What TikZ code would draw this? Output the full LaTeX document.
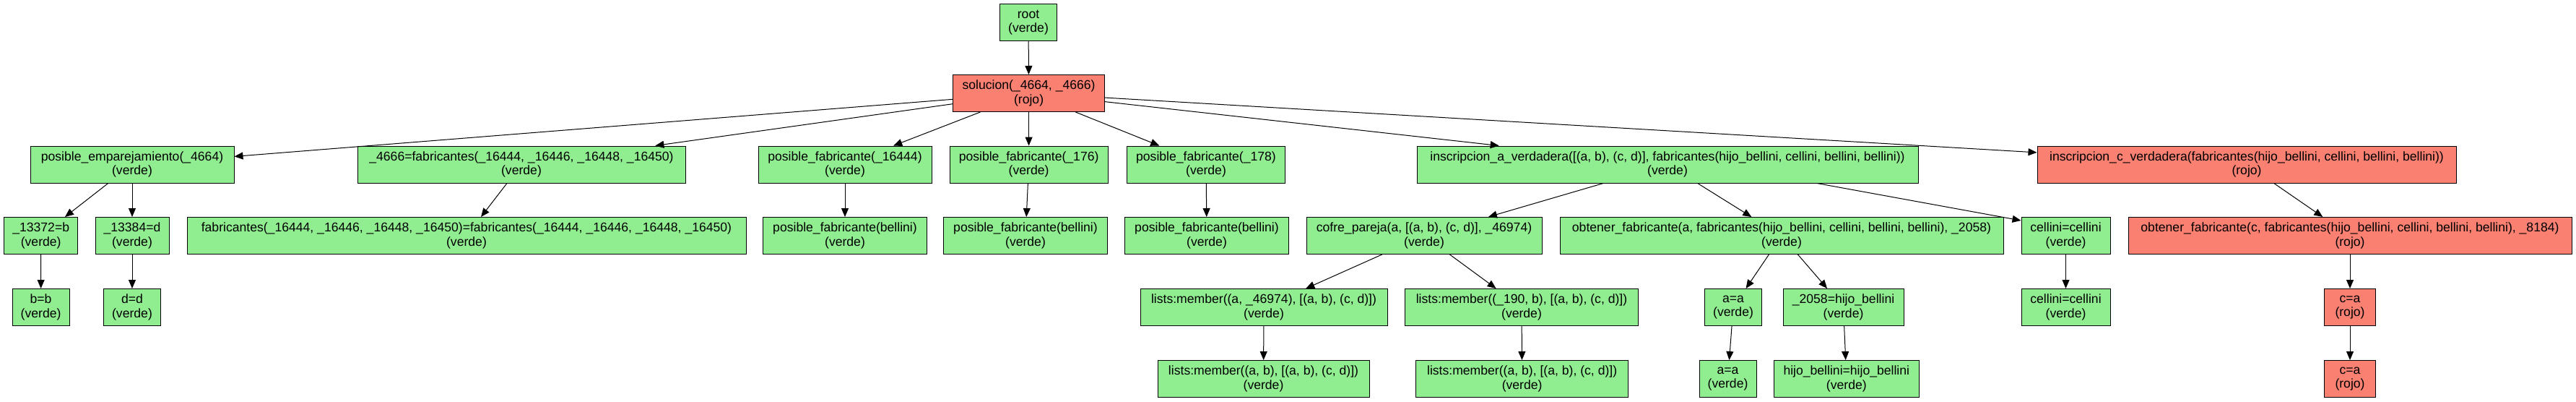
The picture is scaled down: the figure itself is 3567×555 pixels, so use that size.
\documentclass[tikz,border=0pt]{standalone}
\usepackage{fontspec}
\setmainfont{Liberation Sans}
\usetikzlibrary{arrows.meta}
\definecolor{lgreen}{HTML}{90EE90}
\definecolor{salmonc}{HTML}{FA8072}
\tikzset{
 nd/.style={draw=black, line width=1pt, minimum height=51pt, inner xsep=10pt, inner ysep=0pt, align=center, font=\fontsize{17.6}{19.5}\selectfont, text=black},
 gn/.style={nd, fill=lgreen},
 rn/.style={nd, fill=salmonc},
 ed/.style={line width=1pt, -{Triangle[length=12pt,width=10pt]}}
}
\begin{document}
\begin{tikzpicture}[x=1pt,y=-1pt]
\useasboundingbox (0,0) rectangle (3567,555);
% row 1-2
\node[gn, minimum width=79pt] (root) at (1424,31) {root\\(verde)};
\node[rn, minimum width=210pt] (sol) at (1424.6,129) {solucion(\_4664, \_4666)\\(rojo)};
% row 3
\node[gn, minimum width=282pt] (pemp) at (183,227.5) {posible\_emparejamiento(\_4664)\\(verde)};
\node[gn, minimum width=454pt] (f4666) at (722,227.5) {\_4666=fabricantes(\_16444, \_16446, \_16448, \_16450)\\(verde)};
\node[gn, minimum width=240pt] (pf1) at (1170,227.5) {posible\_fabricante(\_16444)\\(verde)};
\node[gn, minimum width=219pt] (pf2) at (1424.6,227.5) {posible\_fabricante(\_176)\\(verde)};
\node[gn, minimum width=219pt] (pf3) at (1670,227.5) {posible\_fabricante(\_178)\\(verde)};
\node[gn, minimum width=694pt] (insa) at (2309,227.5) {inscripcion\_a\_verdadera([(a, b), (c, d)], fabricantes(hijo\_bellini, cellini, bellini, bellini))\\(verde)};
\node[rn, minimum width=580pt] (insc) at (3111,227.5) {inscripcion\_c\_verdadera(fabricantes(hijo\_bellini, cellini, bellini, bellini))\\(rojo)};
% row 4
\node[gn, minimum width=102pt] (n13372) at (56.7,326) {\_13372=b\\(verde)};
\node[gn, minimum width=102pt] (n13384) at (183,326) {\_13384=d\\(verde)};
\node[gn, minimum width=774pt] (ffeq) at (646,326) {fabricantes(\_16444, \_16446, \_16448, \_16450)=fabricantes(\_16444, \_16446, \_16448, \_16450)\\(verde)};
\node[gn, minimum width=227pt] (pfb1) at (1170,326) {posible\_fabricante(bellini)\\(verde)};
\node[gn, minimum width=227pt] (pfb2) at (1420,326) {posible\_fabricante(bellini)\\(verde)};
\node[gn, minimum width=227pt] (pfb3) at (1671,326) {posible\_fabricante(bellini)\\(verde)};
\node[gn, minimum width=326pt] (cofre) at (1972,326) {cofre\_pareja(a, [(a, b), (c, d)], \_46974)\\(verde)};
\node[gn, minimum width=614pt] (obta) at (2467,326) {obtener\_fabricante(a, fabricantes(hijo\_bellini, cellini, bellini, bellini), \_2058)\\(verde)};
\node[gn, minimum width=123pt] (cel1) at (2860.5,326) {cellini=cellini\\(verde)};
\node[rn, minimum width=614pt] (obtc) at (3254,326) {obtener\_fabricante(c, fabricantes(hijo\_bellini, cellini, bellini, bellini), \_8184)\\(rojo)};
% row 5
\node[gn, minimum width=79pt] (bb) at (56.6,425) {b=b\\(verde)};
\node[gn, minimum width=79pt] (dd) at (183,425) {d=d\\(verde)};
\node[gn, minimum width=342pt] (lm1) at (1750,425) {lists:member((a, \_46974), [(a, b), (c, d)])\\(verde)};
\node[gn, minimum width=323pt] (lm2) at (2107,425) {lists:member((\_190, b), [(a, b), (c, d)])\\(verde)};
\node[gn, minimum width=79pt] (aa1) at (2400,425) {a=a\\(verde)};
\node[gn, minimum width=167pt] (h2058) at (2552.5,425) {\_2058=hijo\_bellini\\(verde)};
\node[gn, minimum width=123pt] (cel2) at (2860.5,425) {cellini=cellini\\(verde)};
\node[rn, minimum width=71pt] (ca1) at (3254,425) {c=a\\(rojo)};
% row 6
\node[gn, minimum width=293pt] (lm3) at (1749.5,524) {lists:member((a, b), [(a, b), (c, d)])\\(verde)};
\node[gn, minimum width=294pt] (lm4) at (2107.6,524) {lists:member((a, b), [(a, b), (c, d)])\\(verde)};
\node[gn, minimum width=79pt] (aa2) at (2392.5,524) {a=a\\(verde)};
\node[gn, minimum width=201pt] (hb) at (2556.8,524) {hijo\_bellini=hijo\_bellini\\(verde)};
\node[rn, minimum width=71pt] (ca2) at (3254,524) {c=a\\(rojo)};
% edges
\draw[ed] (root) -- (sol);
\foreach \t in {pemp,f4666,pf1,pf2,pf3,insa,insc} \draw[ed] (sol) -- (\t);
\draw[ed] (pemp) -- (n13372);
\draw[ed] (pemp) -- (n13384);
\draw[ed] (f4666) -- (ffeq);
\draw[ed] (pf1) -- (pfb1);
\draw[ed] (pf2) -- (pfb2);
\draw[ed] (pf3) -- (pfb3);
\draw[ed] (insa) -- (cofre);
\draw[ed] (insa) -- (obta);
\draw[ed] ([xshift=207pt]insa.south) -- ([yshift=-5pt]cel1.north west);
\draw[ed] (insc) -- (obtc);
\draw[ed] (n13372) -- (bb);
\draw[ed] (n13384) -- (dd);
\draw[ed] (cofre) -- (lm1);
\draw[ed] (cofre) -- (lm2);
\draw[ed] (obta) -- (aa1);
\draw[ed] (obta) -- (h2058);
\draw[ed] (cel1) -- (cel2);
\draw[ed] (obtc) -- (ca1);
\draw[ed] (lm1) -- (lm3);
\draw[ed] (lm2) -- (lm4);
\draw[ed] (aa1) -- (aa2);
\draw[ed] (h2058) -- (hb);
\draw[ed] (ca1) -- (ca2);
\end{tikzpicture}
\end{document}
